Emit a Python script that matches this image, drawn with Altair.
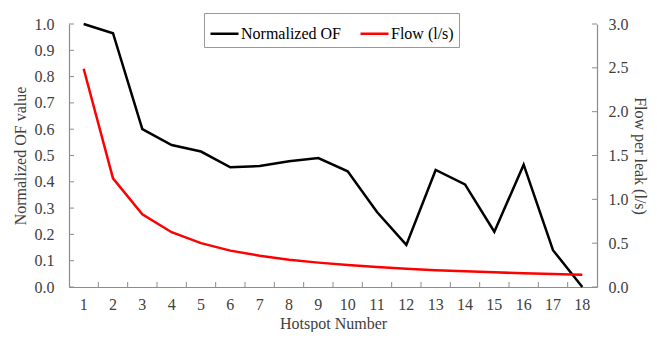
import altair as alt
import pandas as pd

hotspots = list(range(1, 19))
norm_of = [1.0, 0.965, 0.60, 0.54, 0.515, 0.455, 0.46, 0.478, 0.49, 0.44,
           0.285, 0.16, 0.445, 0.39, 0.21, 0.465, 0.14, 0.0]
flow = [2.49, 1.24, 0.83, 0.625, 0.50, 0.415, 0.357, 0.312, 0.278, 0.25,
        0.227, 0.208, 0.192, 0.179, 0.167, 0.156, 0.147, 0.139]
left_ticks = [0.0, 0.1, 0.2, 0.3, 0.4, 0.5, 0.6, 0.7, 0.8, 0.9, 1.0]
right_ticks = [0.0, 0.5, 1.0, 1.5, 2.0, 2.5, 3.0]
series_names = ["Normalized OF", "Flow (l/s)"]
series_colors = ["#000000", "#ff0000"]

W, H = 528, 263
FONT = "Liberation Serif, Times New Roman, serif"
TXT = "#404040"

df_of = pd.DataFrame({"hotspot": hotspots, "value": norm_of, "series": series_names[0]})
df_flow = pd.DataFrame({"hotspot": hotspots, "value": flow, "series": series_names[1]})
df_lt = pd.DataFrame({"value": left_ticks})
df_rt = pd.DataFrame({"value": right_ticks})
df_xt = pd.DataFrame({"hotspot": hotspots[1:]})

xscale = alt.Scale(type="band", paddingInner=0, paddingOuter=0)
xaxis = alt.Axis(title="Hotspot Number", labelAngle=0, labelPadding=9, titlePadding=3)
laxis = alt.Axis(title="Normalized OF value", values=left_ticks, format=".1f",
                 labelPadding=15, titlePadding=6)
raxis = alt.Axis(title="Flow per leak (l/s)", orient="right", values=right_ticks,
                 format=".1f", labelPadding=11, titlePadding=3)

color = alt.Color("series:N",
                  scale=alt.Scale(domain=series_names, range=series_colors),
                  legend=alt.Legend(title=None, orient="none", direction="horizontal",
                                    legendX=135, legendY=-11,
                                    symbolType="stroke", symbolSize=784,
                                    symbolStrokeWidth=2.5, labelFont=FONT,
                                    labelFontSize=16, labelColor="#000000",
                                    labelOffset=1, columnPadding=14,
                                    strokeColor="#999999", padding=5))

black = alt.Chart(df_of).mark_line(strokeWidth=2.5).encode(
    x=alt.X("hotspot:O", scale=xscale, bandPosition=0.5, axis=xaxis),
    y=alt.Y("value:Q", scale=alt.Scale(domain=[0, 1]), axis=laxis),
    color=color,
)
lt = alt.Chart(df_lt).mark_rule(color="#8c8c8c").encode(
    y=alt.Y("value:Q", axis=laxis), x=alt.value(0), x2=alt.value(5))
xt = alt.Chart(df_xt).mark_rule(color="#8c8c8c").encode(
    x=alt.X("hotspot:O", scale=xscale, bandPosition=0, axis=xaxis),
    y=alt.value(H - 5), y2=alt.value(H))

red = alt.Chart(df_flow).mark_line(strokeWidth=2.5).encode(
    x=alt.X("hotspot:O", scale=xscale, bandPosition=0.5, axis=xaxis),
    y=alt.Y("value:Q", scale=alt.Scale(domain=[0, 3]), axis=raxis),
    color=color,
)
rt = alt.Chart(df_rt).mark_rule(color="#8c8c8c").encode(
    y=alt.Y("value:Q", axis=raxis), x=alt.value(W - 5), x2=alt.value(W))

left = alt.layer(black, lt, xt)
right = alt.layer(red, rt)

chart = alt.layer(left, right).resolve_scale(y="independent").properties(
    width=W, height=H,
    autosize=alt.AutoSizeParams(type="none"),
    padding={"left": 61, "top": 16, "right": 52, "bottom": 45},
).configure_view(stroke=None).configure_axis(
    labelFont=FONT, labelFontSize=16, labelColor=TXT,
    titleFont=FONT, titleFontSize=16, titleFontWeight="normal", titleColor=TXT,
    domainColor="#8c8c8c", domainWidth=1.2, grid=False, ticks=False,
)

chart.save("out.html", embed_options={"renderer": "svg", "actions": False})
